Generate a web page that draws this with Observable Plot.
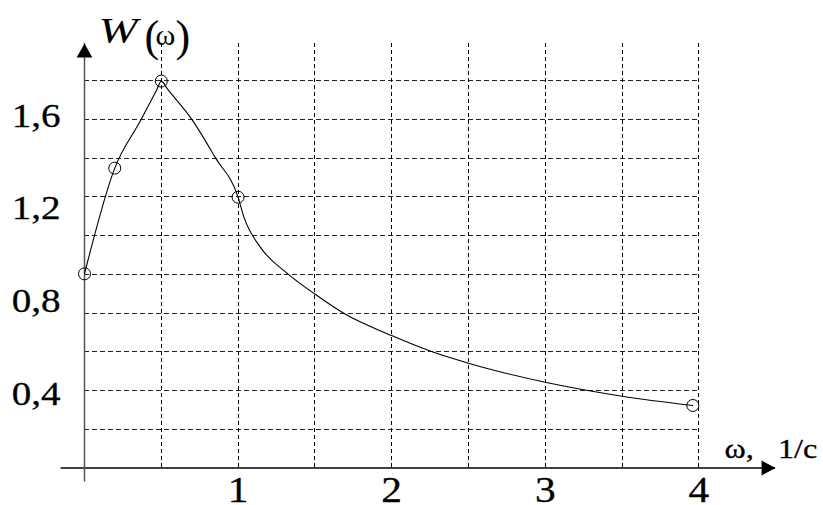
<!DOCTYPE html>
<html>
<head>
<meta charset="utf-8">
<script src="https://cdn.jsdelivr.net/npm/d3@7"></script>
<script src="https://cdn.jsdelivr.net/npm/@observablehq/plot@0.6"></script>
<style>
html, body { margin: 0; padding: 0; background: #fff; }
</style>
</head>
<body>
<div id="chart"></div>
<script>
// ---- data ----
const curveOmega = [0, 0.197, 0.365, 0.47, 0.5, 0.541, 0.701, 0.855, 1.0, 1.037, 1.146, 1.324, 1.5, 1.688, 2.0, 2.264, 2.5, 3.0, 3.5, 3.961];
const curveW     = [0.919, 1.374, 1.579, 1.711, 1.749, 1.714, 1.582, 1.416, 1.249, 1.165, 1.033, 0.919, 0.832, 0.749, 0.653, 0.583, 0.534, 0.452, 0.392, 0.352];
const markerOmega = [0, 0.197, 0.5, 1.0, 3.961];
const markerW     = [0.919, 1.374, 1.749, 1.249, 0.352];

const gridOmega = [0.5, 1, 1.5, 2, 2.5, 3, 3.5, 4];
const gridW = [0.25, 0.417, 0.583, 0.75, 0.917, 1.083, 1.25, 1.417, 1.583, 1.75];

const xTickValues = [1, 2, 3, 4];
const xTickLabels = ["1", "2", "3", "4"];
const yTickValues = [0.4, 0.8, 1.2, 1.6];
const yTickLabels = ["0,4", "0,8", "1,2", "1,6"];

const axisW = 0.083;            // level of the ω axis
const axisOmegaStart = -0.152;  // left end of ω axis
const axisOmegaEnd = 4.5;       // ω axis arrow tip
const axisWStart = 0.022;       // bottom end of W axis
const axisWEnd = 1.911;         // W axis arrow tip
const gridOmegaRight = 4;       // right end of horizontal grid lines

const yTitleParts = ["W", "(", "ω", ")"];
const xTitle = "ω,\u00a0\u00a0 1/c";

// ---- build tables ----
const curve = curveOmega.map((w, i) => ({omega: w, W: curveW[i]}));
const markers = markerOmega.map((w, i) => ({omega: w, W: markerW[i]}));
const xTicks = xTickValues.map((v, i) => ({v, label: xTickLabels[i]}));
const yTicks = yTickValues.map((v, i) => ({v, label: yTickLabels[i]}));

const font = "Liberation Serif, Times New Roman, serif";
const textStyle = {fontFamily: font, fill: "#000", stroke: "#000", strokeWidth: 0.3};
const plainText = {fontFamily: font, fill: "#000"};

const arrowRight = {draw(ctx) { ctx.moveTo(0, 0); ctx.lineTo(-14, -7.5); ctx.lineTo(-14, 7.5); ctx.closePath(); }};
const arrowUp = {draw(ctx) { ctx.moveTo(0, 0); ctx.lineTo(-7.8, 14); ctx.lineTo(7.8, 14); ctx.closePath(); }};

const chart = Plot.plot({
  width: 823,
  height: 505,
  margin: 0,
  style: {background: "#fff", fontFamily: font, color: "#000", overflow: "visible"},
  x: {domain: [0, 4], range: [84, 698.3], axis: null},
  y: {domain: [0, 2], range: [486.7, 22.3], axis: null},
  marks: [
    // grid
    Plot.ruleY(gridW, {x1: 0, x2: gridOmegaRight, stroke: "#222", strokeWidth: 1, strokeDasharray: "5,3", shapeRendering: "crispEdges"}),
    Plot.ruleX(gridOmega, {y1: axisW, y2: axisWEnd, stroke: "#000", strokeWidth: 1, strokeDasharray: "4,3", shapeRendering: "crispEdges"}),
    // axes
    Plot.ruleY([axisW], {x1: axisOmegaStart, x2: axisOmegaEnd, stroke: "#000", strokeWidth: 1.4}),
    Plot.ruleX([0], {y1: axisWStart, y2: axisWEnd, stroke: "#555", strokeWidth: 1.5}),
    Plot.dot([axisOmegaEnd], {x: d => d, y: axisW, symbol: arrowRight, r: 5, fill: "#000", stroke: "none"}),
    Plot.dot([axisWEnd], {x: 0, y: d => d, symbol: arrowUp, r: 5, fill: "#000", stroke: "none"}),
    // curve and points
    Plot.line(curve, {x: "omega", y: "W", curve: "monotone-x", stroke: "#000", strokeWidth: 1.1}),
    Plot.dot(markers, {x: "omega", y: "W", r: 6, stroke: "#000", fill: "none", strokeWidth: 1}),
    // tick labels
    Plot.text(yTicks, {x: 0, y: "v", text: "label", textAnchor: "end", dx: -24, fontSize: 34, ...textStyle}),
    Plot.text(xTicks, {x: "v", y: axisW, text: "label", dy: 23, fontSize: 36, ...textStyle}),
    // y title W(ω)
    Plot.text([yTitleParts[0]], {x: 0, y: axisWEnd, text: d => d, textAnchor: "start", lineAnchor: "bottom", dx: 14, dy: 0, fontSize: 36, fontStyle: "italic", ...plainText}),
    Plot.text([yTitleParts[1]], {x: 0, y: axisWEnd, text: d => d, textAnchor: "start", lineAnchor: "bottom", dx: 60, dy: 7.4, fontSize: 44, ...plainText}),
    Plot.text([yTitleParts[2]], {x: 0, y: axisWEnd, text: d => d, textAnchor: "start", lineAnchor: "bottom", dx: 71, dy: 2, fontSize: 30, ...plainText}),
    Plot.text([yTitleParts[3]], {x: 0, y: axisWEnd, text: d => d, textAnchor: "start", lineAnchor: "bottom", dx: 91, dy: 7.4, fontSize: 44, ...plainText}),
    // x title
    Plot.text([xTitle], {x: axisOmegaEnd, y: axisW, text: d => d, textAnchor: "start", lineAnchor: "bottom", dx: -51, dy: -9.5, fontSize: 28, ...textStyle})
  ]
});

document.getElementById("chart").appendChild(chart);

// widen the glyphs horizontally like the reference lettering
d3.select(chart).selectAll("text").each(function() {
  const s = this.textContent;
  const sx = s === "W" ? 1.3 : (s === "(" || s === ")" || s === "ω") ? 1 : 1.15;
  if (sx === 1) return;
  const len = this.getComputedTextLength();
  if (!(len > 0)) return;
  this.setAttribute("textLength", (len * sx).toFixed(2));
  this.setAttribute("lengthAdjust", "spacingAndGlyphs");
});
</script>
</body>
</html>
